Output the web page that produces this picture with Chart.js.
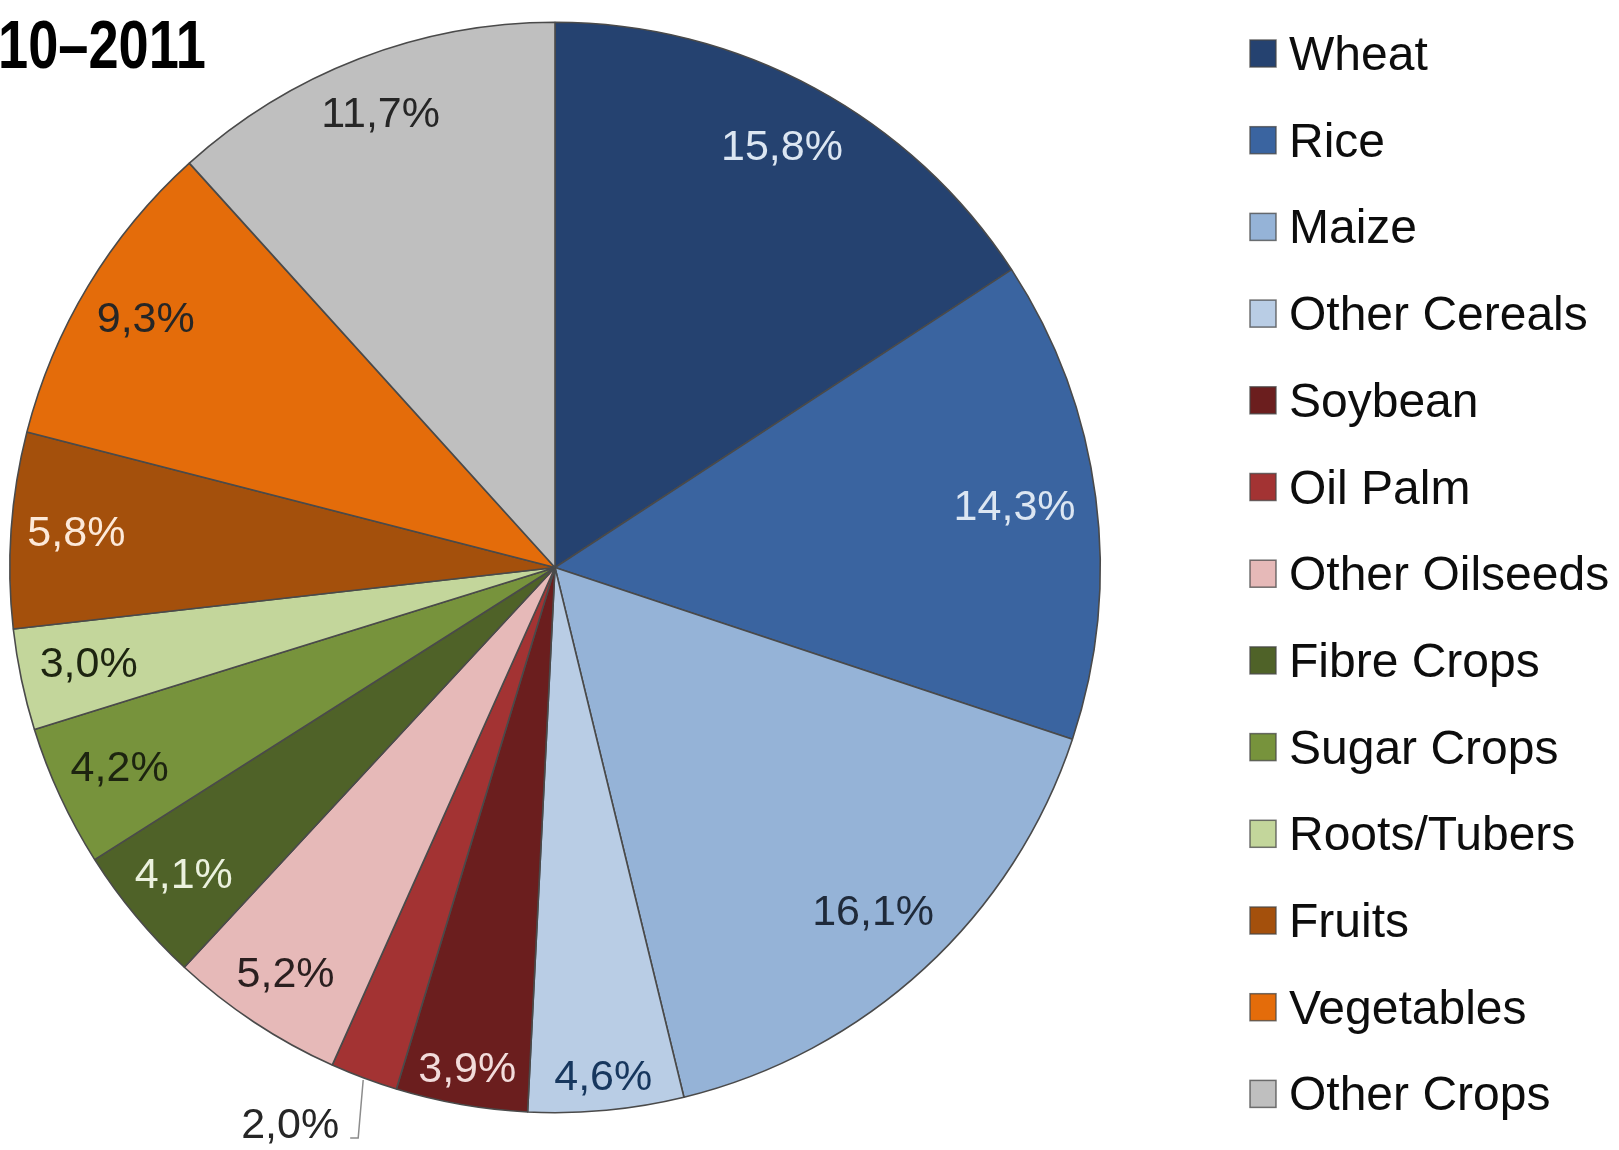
<!DOCTYPE html>
<html>
<head>
<meta charset="utf-8">
<title>Crop shares 2010–2011</title>
<script src="https://cdn.jsdelivr.net/npm/chart.js@4.4.1/dist/chart.umd.min.js"></script>
<style>
  html, body { margin: 0; padding: 0; background: #fff; }
  #wrap { width: 1619px; height: 1150px; position: relative; overflow: hidden; }
</style>
</head>
<body>
<div id="wrap"><canvas id="cropChart" width="1619" height="1150"></canvas></div>
<script>
const titleText = '10–2011';

const crops = [
    'Wheat', 'Rice', 'Maize', 'Other Cereals', 'Soybean', 'Oil Palm',
    'Other Oilseeds', 'Fibre Crops', 'Sugar Crops', 'Roots/Tubers',
    'Fruits', 'Vegetables', 'Other Crops'
];

// share of area, percent
const shares = [15.8, 14.3, 16.1, 4.6, 3.9, 2.0, 5.2, 4.1, 4.2, 3.0, 5.8, 9.3, 11.7];

const sliceColors = [
    '#254270', '#3a64a0', '#95b3d7', '#b9cde5', '#6b1e1e', '#a33333',
    '#e6b9b8', '#4f6228', '#77933c', '#c3d69b', '#a4500c', '#e46c0a', '#bfbfbf'
];

const labelColors = [
    '#dce6f2', '#dce6f2', '#1f2a3a', '#17375e', '#f2dcdb', '#262626',
    '#2a1f1f', '#ebf1de', '#1d2410', '#1d2410', '#fde9d9', '#262626', '#262626'
];

const fmtPct = v => v.toFixed(1).replace('.', ',') + '%';

// percent labels inside the slices, one small slice gets a leader line
const sliceLabels = {
    id: 'sliceLabels',
    afterDatasetsDraw(chart, args, opts) {
        const ctx = chart.ctx;
        const arcs = chart.getDatasetMeta(0).data;
        const values = chart.data.datasets[0].data;
        ctx.save();
        ctx.font = opts.font;
        ctx.textBaseline = 'middle';
        arcs.forEach((arc, i) => {
            const { x, y, startAngle, endAngle, outerRadius } = arc.getProps(['x', 'y', 'startAngle', 'endAngle', 'outerRadius'], true);
            const mid = (startAngle + endAngle) / 2;
            if (i === opts.outside) {
                const sx = x + Math.cos(mid) * (outerRadius + 2);
                const sy = y + Math.sin(mid) * (outerRadius + 2);
                ctx.strokeStyle = '#8c8c8c';
                ctx.lineWidth = 1.5;
                ctx.beginPath();
                ctx.moveTo(sx, sy);
                ctx.lineTo(sx - 5, sy + 58);
                ctx.lineTo(sx - 13, sy + 58);
                ctx.stroke();
                ctx.fillStyle = labelColors[i];
                ctx.textAlign = 'right';
                ctx.fillText(fmtPct(values[i]), sx - 24, sy + 46);
                return;
            }
            const r = outerRadius * (opts.radius[i] || 0.88);
            ctx.fillStyle = labelColors[i];
            ctx.textAlign = 'center';
            ctx.fillText(fmtPct(values[i]), x + Math.cos(mid) * r, y + Math.sin(mid) * r);
        });
        ctx.restore();
    }
};

// legend column on the right plus the heading in the corner
const sideLegend = {
    id: 'sideLegend',
    afterDraw(chart, args, opts) {
        const ctx = chart.ctx;
        const ds = chart.data.datasets[0];
        ctx.save();
        ctx.font = opts.font;
        ctx.textBaseline = 'alphabetic';
        ctx.textAlign = 'left';
        chart.data.labels.forEach((label, i) => {
            const base = opts.top + i * opts.step;
            ctx.fillStyle = ds.backgroundColor[i];
            ctx.fillRect(opts.x, base - 30, 26, 27);
            ctx.strokeStyle = 'rgba(70,70,70,0.75)';
            ctx.lineWidth = 1.5;
            ctx.strokeRect(opts.x, base - 30, 26, 27);
            ctx.fillStyle = '#0d0d0d';
            ctx.fillText(label, opts.x + 39, base);
        });

        ctx.font = 'bold 68px "Liberation Sans Narrow", "Liberation Sans", Arial, sans-serif';
        ctx.fillStyle = '#000';
        const w = ctx.measureText(titleText).width;
        ctx.translate(-2, 68);
        ctx.scale(Math.min(1, 208 / w), 1);
        ctx.fillText(titleText, 0, 0);
        ctx.restore();
    }
};

new Chart(document.getElementById('cropChart'), {
    type: 'pie',
    data: {
        labels: crops,
        datasets: [{
            data: shares,
            backgroundColor: sliceColors,
            borderColor: '#4a4a4a',
            borderWidth: 1.6
        }]
    },
    options: {
        responsive: false,
        animation: false,
        layout: { padding: { left: 9, right: 518, top: 19, bottom: 34 } },
        plugins: {
            legend: { display: false },
            tooltip: { enabled: false },
            sliceLabels: {
                font: '43px "Liberation Sans", Arial, sans-serif',
                outside: 5,
                radius: [0.874, 0.85, 0.861, 0.94, 0.936, null, 0.896, 0.886, 0.88, 0.874, 0.88, 0.877, 0.89]
            },
            sideLegend: {
                font: '48px "Liberation Sans", Arial, sans-serif',
                x: 1250,
                top: 70,
                step: 86.7
            }
        }
    },
    plugins: [sliceLabels, sideLegend]
});
</script>
</body>
</html>
